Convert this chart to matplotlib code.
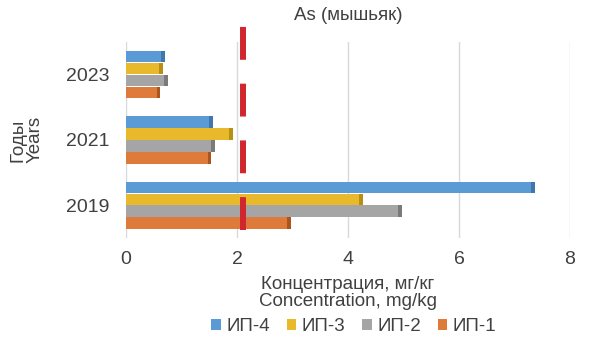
import matplotlib
matplotlib.use("Agg")
import matplotlib.pyplot as plt
from matplotlib.patches import Patch
import numpy as np

plt.rcParams['font.family'] = ['Liberation Sans', 'DejaVu Sans']

years = ["2019", "2021", "2023"]
series_names = ["ИП-4", "ИП-3", "ИП-2", "ИП-1"]
ip4 = [7.3, 1.5, 0.63]
ip3 = [4.2, 1.85, 0.6]
ip2 = [4.9, 1.53, 0.68]
ip1 = [2.9, 1.47, 0.55]
limit_value = 2.0
x_ticks = [0, 2, 4, 6, 8]

colors = ["#5B9BD5", "#E9B92C", "#A5A5A5", "#DE7B3A"]
edge_colors = ["#3F77AC", "#B88E15", "#7A7A7A", "#A8551F"]

fig = plt.figure(figsize=(6, 3.4), dpi=100)
ax = fig.add_axes([0.21, 0.30, 0.74, 0.577])

y = np.arange(len(years))
h = 0.183
offsets = [1.5 * h, 0.5 * h, -0.5 * h, -1.5 * h]
data = [ip4, ip3, ip2, ip1]

for vals, off, c, ec in zip(data, offsets, colors, edge_colors):
    ax.barh(y + off, vals, height=h * 0.97, color=c, zorder=3)
    # darker end cap suggesting the 3D side face
    ax.barh(y + off, [0.07] * len(vals), left=vals, height=h * 0.97,
            color=ec, zorder=3)

for t in x_ticks:
    ax.axvline(t, color="#D9D9D9", lw=1.0, zorder=1)

ax.axvline(limit_value + 0.1, ymin=0.04, ymax=1.09, color="#D0262E", lw=4.3,
           linestyle=(0, (5.5, 4.0)), clip_on=False, zorder=4)

ax.set_xlim(0, 8)
ax.set_ylim(-0.5, 2.5)
ax.set_xticks(x_ticks)
ax.set_xticklabels([str(t) for t in x_ticks])
ax.set_yticks(y)
ax.set_yticklabels(years)
ax.tick_params(axis='x', length=0, labelsize=14, colors="#404040", pad=9)
ax.tick_params(axis='y', length=0, labelsize=14, colors="#404040", pad=12)
for s in ax.spines.values():
    s.set_visible(False)

ax.set_title("As (мышьяк)", fontsize=13.5, color="#404040", pad=16)
ax.set_xlabel("Концентрация, мг/кг\nConcentration, mg/kg", fontsize=13.5,
              color="#404040", labelpad=6, linespacing=1.0)
ax.set_ylabel("Годы\nYears", fontsize=13.5, color="#404040", labelpad=16,
              linespacing=1.0)

handles = [Patch(facecolor=c, label=n) for c, n in zip(colors, series_names)]
fig.legend(handles=handles, loc="center", bbox_to_anchor=(0.59, 0.04),
           ncol=4, frameon=False, fontsize=13.5, handlelength=0.5,
           handleheight=0.5, handletextpad=0.3, columnspacing=0.9,
           labelcolor="#404040")

fig.savefig("out.png", dpi=100)
